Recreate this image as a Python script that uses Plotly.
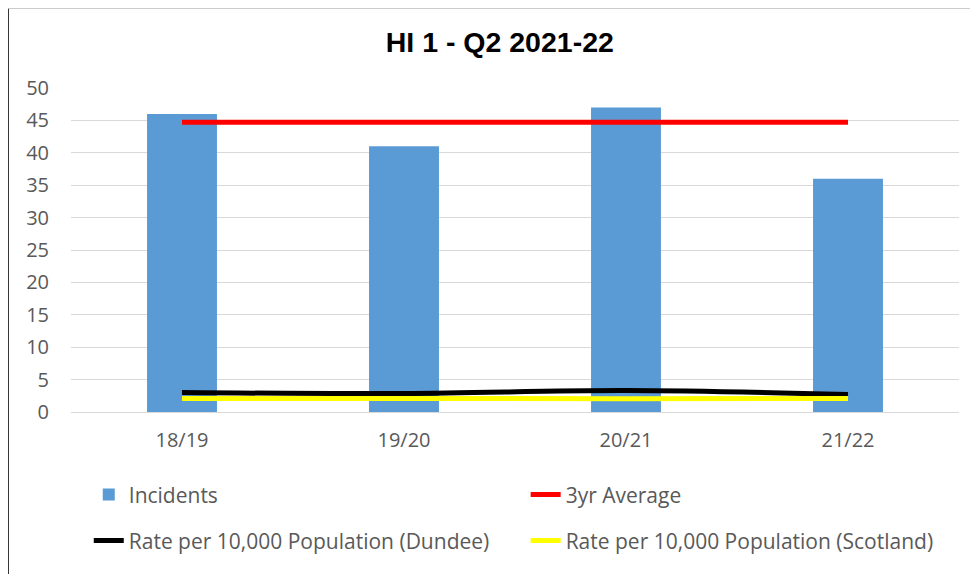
import plotly.graph_objects as go

categories = ["18/19", "19/20", "20/21", "21/22"]
incidents = [46, 41, 47, 36]
avg_3yr = [44.7, 44.7, 44.7, 44.7]
rate_dundee = [3.0, 2.85, 3.3, 2.7]
rate_scotland = [2.1, 2.1, 2.05, 2.1]
y_ticks = [0, 5, 10, 15, 20, 25, 30, 35, 40, 45, 50]

font_main = "Open Sans, Calibri, sans-serif"

fig = go.Figure()
fig.add_trace(go.Bar(x=categories, y=incidents, name="Incidents", legend="legend",
                     marker=dict(color="#5b9bd5", line=dict(width=0))))
fig.add_trace(go.Scatter(x=categories, y=avg_3yr, name="3yr Average", mode="lines", legend="legend2",
                         line=dict(color="#ff0000", width=5)))
fig.add_trace(go.Scatter(x=categories, y=rate_dundee, name="Rate per 10,000 Population (Dundee)",
                         mode="lines", legend="legend3",
                         line=dict(color="#000000", width=5, shape="spline")))
fig.add_trace(go.Scatter(x=categories, y=rate_scotland, name="Rate per 10,000 Population (Scotland)",
                         mode="lines", legend="legend4",
                         line=dict(color="#ffff00", width=5, shape="spline")))

leg_font = dict(family=font_main, size=21, color="#595959")
def leg(x, y):
    return dict(x=x, xanchor="left", y=y, yanchor="middle", orientation="h",
                bgcolor="rgba(0,0,0,0)", font=leg_font)

fig.update_layout(
    width=970, height=566,
    margin=dict(l=63, r=19, t=80, b=162),
    paper_bgcolor="white", plot_bgcolor="white",
    bargap=0.685,
    title=dict(text="<b>HI 1 - Q2 2021-22</b>", x=0.507, xanchor="center", y=0.940, yanchor="middle",
               font=dict(family="Liberation Sans, Arial, sans-serif", size=28.5, color="#000000")),
    font=dict(family=font_main, size=20, color="#595959"),
    xaxis=dict(showgrid=False, showline=False, zeroline=False, ticks="", automargin=False,
               ticklabelstandoff=14, tickfont=dict(size=20, color="#595959")),
    yaxis=dict(range=[0, 50], tickvals=y_ticks, showgrid=True, gridcolor="#d9d9d9", gridwidth=1,
               zeroline=True, zerolinecolor="#d9d9d9", zerolinewidth=1, showline=False, ticks="",
               automargin=False, ticklabelstandoff=21, tickfont=dict(size=20, color="#595959")),
    legend=leg(0.020, -0.256),
    legend2=leg(0.512, -0.256),
    legend3=leg(0.020, -0.398),
    legend4=leg(0.512, -0.398),
    showlegend=True,
)

# chart frame edges
fig.add_shape(type="line", xref="paper", yref="paper", x0=-0.0709, x1=-0.0709, y0=-0.5, y1=1.246,
              line=dict(color="#000000", width=1.5))
fig.add_shape(type="line", xref="paper", yref="paper", x0=-0.0709, x1=1.03, y0=1.246, y1=1.246,
              line=dict(color="#bfbfbf", width=1))

fig.write_html("out.html")
